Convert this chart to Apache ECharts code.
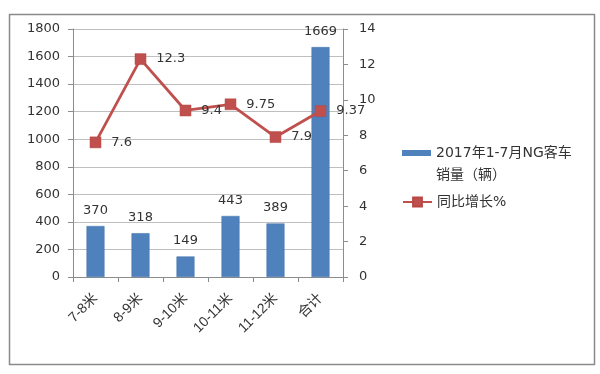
<!DOCTYPE html>
<html>
<head>
<meta charset="utf-8">
<script src="https://cdn.jsdelivr.net/npm/echarts@6/dist/echarts.min.js"></script>
<style>html,body{margin:0;padding:0;background:#fff;}#c{width:600px;height:374px;}</style>
</head>
<body>
<div id="c"></div>
<script>
var categories = ['7-8米', '8-9米', '9-10米', '10-11米', '11-12米', '合计'];
var salesValues = [370, 318, 149, 443, 389, 1669];
var growthValues = [7.6, 12.3, 9.4, 9.75, 7.9, 9.37];
var barName = '2017年1-7月NG客车\n销量（辆）';
var lineName = '同比增长%';

var FONT = "'DejaVu Sans', 'Noto Sans CJK SC', sans-serif";
var FONT2 = "'Liberation Sans', 'Noto Sans CJK SC', sans-serif";
var chart = echarts.init(document.getElementById('c'), null, {renderer: 'canvas'});
chart.setOption({
  backgroundColor: '#ffffff',
  animation: false,
  textStyle: {fontFamily: FONT},
  graphic: [{
    type: 'rect', left: 7, top: 12, z: -10,
    shape: {width: 585, height: 350},
    style: {fill: 'none', stroke: '#8a8a8a', lineWidth: 1.5}
  }],
  grid: {left: 73, right: 257, top: 29, bottom: 97, containLabel: false},
  legend: [{
    data: [{name: barName}],
    orient: 'vertical', left: 402, top: 142, padding: 0,
    icon: 'path://M0,0L29,0L29,6L0,6Z M0,28L0,28',
    itemWidth: 29, itemHeight: 28,
    itemStyle: {borderWidth: 0},
    textStyle: {fontSize: 14, color: '#333', lineHeight: 22, fontFamily: FONT}
  }, {
    data: [{name: lineName}],
    orient: 'vertical', left: 402, top: 191, padding: 0,
    itemWidth: 29, itemHeight: 11,
    textStyle: {fontSize: 14, color: '#333', lineHeight: 22, fontFamily: FONT}
  }],
  xAxis: {
    type: 'category', data: categories,
    axisLine: {lineStyle: {color: '#8c8c8c', width: 1}},
    axisTick: {show: true, length: 5, alignWithLabel: false, lineStyle: {color: '#8c8c8c'}},
    axisLabel: {rotate: 45, margin: 19, fontSize: 14, color: '#333', fontFamily: FONT2, interval: 0}
  },
  yAxis: [{
    type: 'value', min: 0, max: 1800, interval: 200, position: 'left',
    axisLine: {show: true, lineStyle: {color: '#8c8c8c'}},
    axisTick: {show: true, length: 5, lineStyle: {color: '#8c8c8c'}},
    axisLabel: {margin: 13, fontSize: 13, color: '#333', fontFamily: FONT, formatter: function (v) { return String(v); }},
    splitLine: {show: true, lineStyle: {color: '#bfbfbf', width: 1}}
  }, {
    type: 'value', min: 0, max: 14, interval: 2, position: 'right',
    axisLine: {show: true, lineStyle: {color: '#8c8c8c'}},
    axisTick: {show: true, length: 5, lineStyle: {color: '#8c8c8c'}},
    axisLabel: {margin: 16, fontSize: 13, color: '#333', fontFamily: FONT},
    splitLine: {show: false}
  }],
  series: [{
    name: barName, type: 'bar', data: salesValues, yAxisIndex: 0,
    barWidth: 18,
    itemStyle: {color: '#4f81bd', borderColor: '#4473ab', borderWidth: 0.5},
    label: {show: true, position: 'top', distance: 9, fontSize: 13, color: '#333', fontFamily: FONT},
    z: 1
  }, {
    name: lineName, type: 'line', data: growthValues, yAxisIndex: 1,
    symbol: 'rect', symbolSize: 11,
    lineStyle: {color: '#c0504d', width: 2.8},
    itemStyle: {color: '#c0504d', borderColor: '#b84744', borderWidth: 0.5},
    label: {show: true, position: 'right', distance: 10, fontSize: 13, color: '#333', fontFamily: FONT},
    z: 3
  }]
});
</script>
</body>
</html>
